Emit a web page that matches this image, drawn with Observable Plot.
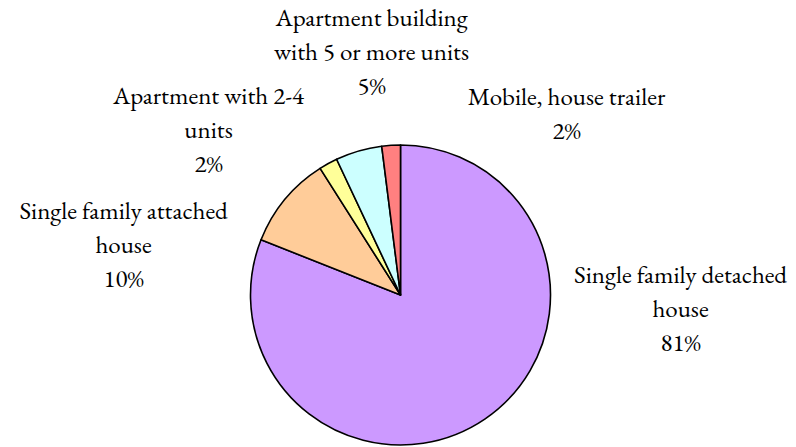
<!DOCTYPE html>
<html><head><meta charset="utf-8">
<script src="https://cdn.jsdelivr.net/npm/d3@7"></script>
<script src="https://cdn.jsdelivr.net/npm/@observablehq/plot@0.6"></script>
<style>body{margin:0;background:#fff;}</style>
</head><body><div id="chart"></div>
<script>
// ---- data ----
const categories = ["Single family detached house", "Single family attached house", "Apartment with 2-4 units", "Apartment building with 5 or more units", "Mobile, house trailer"];
const shares = [81, 10, 2, 5, 2];
const labelLines = ["Single family detached\nhouse", "Single family attached\nhouse", "Apartment with 2-4\nunits", "Apartment building\nwith 5 or more units", "Mobile, house trailer"];
const sliceColors = ["#CC99FF", "#FFCC99", "#FFFF99", "#CCFFFF", "#FF8080"];

// ---- layout ----
const W = 796, H = 447;
const cx = 400.5, cy = 295, R = 150;
const labelAnchor = [[680, 350], [123, 286], [208, 171], [371, 93], [566, 138]]; // centre x, last-line baseline

const rows = categories.map((c, i) => ({
  category: c,
  share: shares[i],
  label: labelLines[i] + "\n" + shares[i] + "%",
  lx: labelAnchor[i][0],
  ly: labelAnchor[i][1]
}));
const arcs = d3.pie().sort(null).value(d => d.share)(rows);

function pieMark(index, scales) {
  const g = d3.create("svg:g");
  const x0 = scales.x(cx), y0 = scales.y(cy);
  const r = scales.x(cx + R) - scales.x(cx);
  const arc = d3.arc().innerRadius(0).outerRadius(r);
  const colorOf = (d, i) => scales.color ? scales.color(d.data.category) : sliceColors[i];
  g.attr("transform", `translate(${x0},${y0})`)
    .selectAll("path").data(arcs).join("path")
    .attr("d", arc)
    .attr("fill", colorOf)
    .attr("stroke", "#000")
    .attr("stroke-width", 1.6)
    .attr("stroke-linejoin", "round");
  return g.node();
}

const chart = Plot.plot({
  width: W, height: H,
  margin: 0,
  x: {domain: [0, W], range: [0, W], axis: null},
  y: {domain: [0, H], range: [0, H], axis: null},
  color: {type: "ordinal", domain: categories, range: sliceColors},
  marks: [
    pieMark,
    Plot.text(rows, {
      x: "lx", y: "ly", text: "label",
      lineAnchor: "bottom", lineHeight: 1.36,
      fontSize: 25, fontFamily: "EB Garamond", fill: "#000", textAnchor: "middle"
    })
  ]
});
document.getElementById("chart").appendChild(chart);
</script>
</body></html>
